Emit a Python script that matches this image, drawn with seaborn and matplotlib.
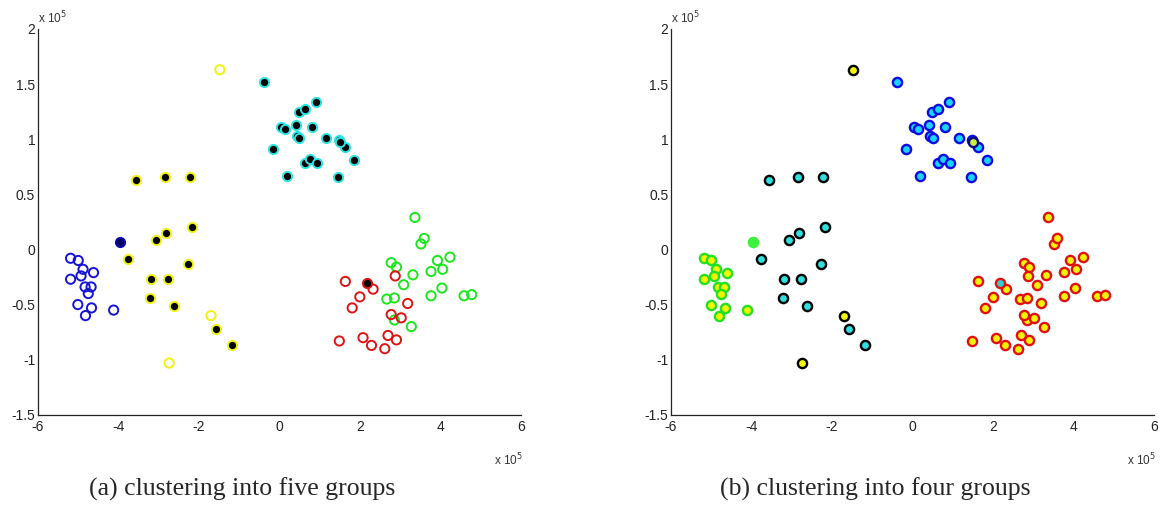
import matplotlib
matplotlib.use('Agg')
import matplotlib.pyplot as plt
import seaborn as sns
import pandas as pd

# coordinates in units of 1e5, grouped by the five-group result (panel a)
blue_x = [-5.19, -5.00, -4.88, -4.62, -5.19, -4.93, -4.83, -4.68, -4.75, -5.01, -4.67, -4.82, -4.12]
blue_y = [-0.08, -0.10, -0.18, -0.21, -0.27, -0.24, -0.34, -0.34, -0.40, -0.50, -0.53, -0.60, -0.55]

navy_x = [-3.96]
navy_y = [0.07]

yellow_open_x = [-1.48, -1.70, -2.74]
yellow_open_y = [1.63, -0.60, -1.03]

yellow_dot_x = [-3.56, -2.85, -2.23, -2.17, -2.82, -3.07, -3.76, -2.27, -3.19, -2.78, -3.22, -2.62, -1.57, -1.19]
yellow_dot_y = [0.63, 0.66, 0.66, 0.20, 0.15, 0.09, -0.09, -0.13, -0.27, -0.27, -0.44, -0.51, -0.72, -0.87]

cyan_dot_x = [-0.39, 0.90, 0.48, 0.64, 0.04, 0.15, 0.42, 0.44, 0.50, 0.81, 1.16, 1.47, 1.63, -0.17,
              1.85, 0.64, 0.75, 0.93, 0.20, 1.46]
cyan_dot_y = [1.52, 1.34, 1.25, 1.27, 1.11, 1.09, 1.13, 1.03, 1.01, 1.11, 1.01, 0.99, 0.93, 0.91,
              0.81, 0.78, 0.82, 0.78, 0.67, 0.66]

special_x = [1.51]
special_y = [0.97]

green_x = [3.37, 3.52, 3.60, 2.78, 2.91, 3.32, 3.09, 2.67, 2.86, 3.77, 3.93, 4.06, 4.24, 4.04, 3.77,
           4.59, 4.78, 2.86, 3.28]
green_y = [0.29, 0.05, 0.10, -0.12, -0.16, -0.23, -0.32, -0.45, -0.44, -0.20, -0.10, -0.18, -0.07,
           -0.35, -0.42, -0.42, -0.41, -0.64, -0.70]

red_x = [1.64, 2.33, 2.00, 1.81, 2.88, 3.19, 2.78, 3.03, 1.49, 2.08, 2.29, 2.70, 2.91, 2.62]
red_y = [-0.29, -0.36, -0.43, -0.53, -0.24, -0.49, -0.59, -0.62, -0.83, -0.80, -0.87, -0.78, -0.82, -0.90]

red_dot_x = [2.18]
red_dot_y = [-0.30]

x_ticks = [-6, -4, -2, 0, 2, 4, 6]
y_ticks = [-1.5, -1, -0.5, 0, 0.5, 1, 1.5, 2]
y_tick_labels = ['-1.5', '-1', '-0.5', '0', '0.5', '1', '1.5', '2']
captions = ['(a) clustering into five groups', '(b) clustering into four groups']

groups = {
    'blue': (blue_x, blue_y), 'navy': (navy_x, navy_y),
    'yellow_open': (yellow_open_x, yellow_open_y), 'yellow_dot': (yellow_dot_x, yellow_dot_y),
    'cyan_dot': (cyan_dot_x, cyan_dot_y), 'special': (special_x, special_y),
    'green': (green_x, green_y), 'red': (red_x, red_y), 'red_dot': (red_dot_x, red_dot_y),
}
df = pd.concat([pd.DataFrame({'x': gx, 'y': gy, 'group': name})
                for name, (gx, gy) in groups.items()], ignore_index=True)

# (face, edge) per group for each panel
style_a = {
    'blue': ('none', '#1414d2'), 'navy': ('#000060', '#0808b0'),
    'yellow_open': ('none', '#f2f214'), 'yellow_dot': ('black', '#f2f214'),
    'cyan_dot': ('black', '#2ce4e4'), 'special': ('black', '#2ce4e4'),
    'green': ('none', '#1ee61e'), 'red': ('none', '#dc1414'), 'red_dot': ('black', '#dc1414'),
}
style_b = {
    'blue': ('#f5f500', '#22e022'), 'navy': ('#3cf03c', '#3cf03c'),
    'yellow_open': ('#f5f500', 'black'), 'yellow_dot': ('#2ee0e0', 'black'),
    'cyan_dot': ('#18d4ff', '#0a0ae0'), 'special': ('#c8f040', '#0a0a80'),
    'green': ('#f5f500', '#e01010'), 'red': ('#f5f500', '#e01010'), 'red_dot': ('#30d0d0', '#e01010'),
}

sns.set_theme(style='white')
plt.rcParams['font.family'] = ['Liberation Sans', 'DejaVu Sans']

fig = plt.figure(figsize=(11.66, 5.16), dpi=100)
ax_a = fig.add_axes([0.0326, 0.196, 0.414, 0.748])
ax_b = fig.add_axes([0.5755, 0.196, 0.414, 0.748])

for ax, style, lw, cap in [(ax_a, style_a, 1.4, captions[0]), (ax_b, style_b, 1.7, captions[1])]:
    for name, (face, edge) in style.items():
        sub = df[df['group'] == name]
        sns.scatterplot(data=sub, x='x', y='y', ax=ax, s=44, marker='o',
                        facecolor=face, edgecolor=edge, linewidth=lw, legend=False, zorder=3)
    ax.set_xlim(-6, 6)
    ax.set_ylim(-1.5, 2)
    ax.set_xticks(x_ticks)
    ax.set_xticklabels([str(t) for t in x_ticks])
    ax.set_yticks(y_ticks)
    ax.set_yticklabels(y_tick_labels)
    ax.set_xlabel('')
    ax.set_ylabel('')
    ax.tick_params(direction='in', length=4, width=0.8, labelsize=10, colors='#222222', pad=2)
    ax.tick_params(axis='x', pad=3.5)
    sns.despine(ax=ax)
    for sp in ['left', 'bottom']:
        ax.spines[sp].set_color('#222222')
        ax.spines[sp].set_linewidth(0.9)
    ax.text(0.0, 1.008, r'x 10$^5$', transform=ax.transAxes, ha='left', va='bottom',
            fontsize=8.5, color='#333333')
    ax.text(1.005, -0.095, r'x 10$^5$', transform=ax.transAxes, ha='right', va='top',
            fontsize=8.5, color='#333333')
    pos = ax.get_position()
    fig.text(pos.x0 + pos.width / 2 - 0.032, 0.03, cap, ha='center', va='bottom',
             fontsize=18.5, family=['Liberation Serif', 'DejaVu Serif'])

fig.savefig('out.png', dpi=100)
